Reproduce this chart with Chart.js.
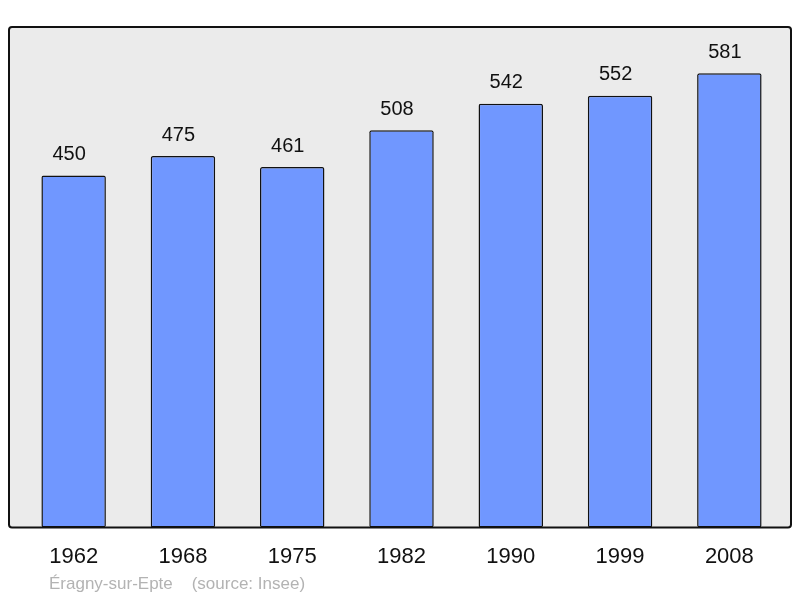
<!DOCTYPE html>
<html>
<head>
<meta charset="utf-8">
<script src="https://cdn.jsdelivr.net/npm/chart.js@4/dist/chart.umd.min.js"></script>
<style>
  body { margin: 0; background: #fff; }
  canvas { display: block; }
</style>
</head>
<body>
<canvas id="chart" width="800" height="598"></canvas>
<script>
const years = ["1962", "1968", "1975", "1982", "1990", "1999", "2008"];
const population = [450, 475, 461, 508, 542, 552, 581];
const caption = "Éragny-sur-Epte    (source: Insee)";

// grey panel with a black rounded frame, a bit wider than the bar area
const framePlugin = {
  id: "frame",
  beforeDraw(chart) {
    const { ctx, chartArea: a } = chart;
    const x = a.left - 10, y = a.top, w = a.right + 7 - x, h = a.bottom - a.top;
    ctx.save();
    ctx.beginPath();
    ctx.roundRect(x, y, w, h, 3);
    ctx.fillStyle = "#ebebeb";
    ctx.fill();
    ctx.restore();
  },
  afterDatasetsDraw(chart) {
    const { ctx, chartArea: a } = chart;
    const x = a.left - 10, y = a.top, w = a.right + 7 - x, h = a.bottom - a.top;
    ctx.save();
    ctx.beginPath();
    ctx.roundRect(x, y, w, h, 3);
    ctx.lineWidth = 2;
    ctx.strokeStyle = "#111";
    ctx.stroke();

    // values above the bars (sit slightly left of centre in the original)
    ctx.font = "20px 'Liberation Sans', Arial, sans-serif";
    ctx.fillStyle = "#111";
    ctx.textAlign = "center";
    ctx.textBaseline = "middle";
    chart.getDatasetMeta(0).data.forEach((bar, i) => {
      ctx.fillText(population[i], bar.x - 4.5, bar.y - 21);
    });

    ctx.font = "17px 'Liberation Sans', Arial, sans-serif";
    ctx.fillStyle = "#b3b3b3";
    ctx.textAlign = "left";
    ctx.fillText(caption, 49, 584);
    ctx.restore();
  }
};

new Chart(document.getElementById("chart"), {
  type: "bar",
  data: {
    labels: years,
    datasets: [{
      data: population,
      backgroundColor: "#7097ff",
      borderColor: "#111",
      borderWidth: 1.5,
      borderRadius: 2,
      borderSkipped: false,
      barPercentage: 0.59,
      categoryPercentage: 1.0,
    }],
  },
  options: {
    responsive: false,
    animation: false,
    layout: { padding: { left: 19, right: 16, top: 27, bottom: 12 } },
    plugins: {
      legend: { display: false },
      tooltip: { enabled: false },
    },
    scales: {
      x: {
        grid: { display: false, drawTicks: false },
        border: { display: false },
        ticks: {
          color: "#111",
          padding: 16,
          font: { family: "'Liberation Sans', Arial, sans-serif", size: 22 },
        },
      },
      y: { display: false, min: 0, max: 640 },
    },
  },
  plugins: [framePlugin],
});
</script>
</body>
</html>
